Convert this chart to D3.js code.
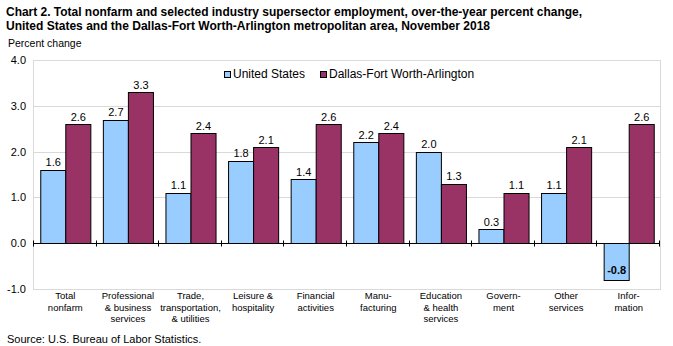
<!DOCTYPE html>
<html>
<head>
<meta charset="utf-8">
<script src="https://cdn.jsdelivr.net/npm/d3@7"></script>
<style>
  body { margin: 0; background: #fff; }
  svg { display: block; font-family: "Liberation Sans", Arial, sans-serif; }
</style>
</head>
<body>
<svg id="chart" width="673" height="346"></svg>
<script>
// industry groups, each label split over its lines
var categories = [
  ["Total", "nonfarm"],
  ["Professional", "& business", "services"],
  ["Trade,", "transportation,", "& utilities"],
  ["Leisure &", "hospitality"],
  ["Financial", "activities"],
  ["Manu-", "facturing"],
  ["Education", "& health", "services"],
  ["Govern-", "ment"],
  ["Other", "services"],
  ["Infor-", "mation"]
];
var usValues  = [1.6, 2.7, 1.1, 1.8, 1.4, 2.2, 2.0, 0.3, 1.1, -0.8];
var dfwValues = [2.6, 3.3, 2.4, 2.1, 2.6, 2.4, 1.3, 1.1, 2.1, 2.6];
var seriesNames = ["United States", "Dallas-Fort Worth-Arlington"];
var yTicks = [-1, 0, 1, 2, 3, 4];

var colors = ["#99ccff", "#993366"];
var svg = d3.select("#chart");
var plotLeft = 34, plotRight = 660, plotTop = 60, plotBottom = 289;

var x = d3.scaleBand()
  .domain(d3.range(categories.length))
  .range([plotLeft, plotRight])
  .paddingInner(0.2)
  .paddingOuter(0.1);
var x1 = d3.scaleBand().domain([0, 1]).range([0, x.bandwidth()]);
var y = d3.scaleLinear().domain([-1, 4]).range([plotBottom, plotTop]);

// title
var title = [
  "Chart 2. Total nonfarm and selected industry supersector employment, over-the-year percent change,",
  "United  States and the Dallas-Fort Worth-Arlington  metropolitan area, November 2018"
];
var titleWidths = [576, 484];
svg.selectAll("text.title").data(title).enter().append("text")
  .attr("class", "title")
  .attr("x", 6)
  .attr("y", function(d, i) { return 16 + i * 13.5; })
  .attr("font-size", 12.5)
  .attr("font-weight", "bold")
  .attr("textLength", function(d, i) { return titleWidths[i]; })
  .attr("lengthAdjust", "spacingAndGlyphs")
  .attr("fill", "#000")
  .text(function(d) { return d; });

svg.append("text")
  .attr("x", 8).attr("y", 47)
  .attr("font-size", 10.5)
  .text("Percent change");

// gridlines and frame
svg.append("g").selectAll("line").data(yTicks).enter().append("line")
  .attr("x1", plotLeft).attr("x2", plotRight)
  .attr("y1", function(d) { return Math.round(y(d)) + 0.5; })
  .attr("y2", function(d) { return Math.round(y(d)) + 0.5; })
  .attr("stroke", "#d9d9d9");
svg.append("rect")
  .attr("x", plotLeft - 0.5).attr("y", Math.round(plotTop) + 0.5)
  .attr("width", plotRight - plotLeft + 1).attr("height", Math.round(plotBottom) - Math.round(plotTop))
  .attr("fill", "none").attr("stroke", "#d9d9d9");

// y axis labels
svg.append("g").selectAll("text").data(yTicks).enter().append("text")
  .attr("x", 26)
  .attr("y", function(d) { return y(d) + 4; })
  .attr("text-anchor", "end")
  .attr("font-size", 11)
  .text(function(d) { return d.toFixed(1); });

// bars
var rows = categories.map(function(c, i) { return [usValues[i], dfwValues[i]]; });
var groups = svg.append("g").selectAll("g").data(rows).enter().append("g")
  .attr("transform", function(d, i) { return "translate(" + x(i) + ",0)"; });

groups.selectAll("rect").data(function(d) { return d; }).enter().append("rect")
  .attr("x", function(d, j) { return x1(j) + 0.5; })
  .attr("y", function(d) { return Math.round(y(Math.max(0, d))) + 0.5; })
  .attr("width", x1.bandwidth())
  .attr("height", function(d) { return Math.abs(Math.round(y(d)) - Math.round(y(0))); })
  .attr("fill", function(d, j) { return colors[j]; })
  .attr("stroke", "#000")
  .attr("stroke-width", 1);

// value labels (negative ones sit inside the bar, in bold)
groups.selectAll("text").data(function(d) { return d; }).enter().append("text")
  .attr("x", function(d, j) { return x1(j) + x1.bandwidth() / 2 + 0.5; })
  .attr("y", function(d) { return d >= 0 ? y(d) - 3.5 : y(d) - 5.5; })
  .attr("text-anchor", "middle")
  .attr("font-size", 11)
  .attr("font-weight", function(d) { return d < 0 ? "bold" : null; })
  .text(function(d) { return d.toFixed(1); });

// zero line with category ticks
var y0 = Math.round(y(0)) + 0.5;
svg.append("line")
  .attr("x1", plotLeft - 1).attr("x2", plotRight)
  .attr("y1", y0).attr("y2", y0)
  .attr("stroke", "#000");
var bounds = d3.range(categories.length + 1).map(function(i) {
  return i < categories.length ? x(i) - x.step() * x.paddingOuter() : plotRight;
});
svg.append("g").selectAll("line").data(bounds).enter().append("line")
  .attr("x1", function(d) { return Math.round(d) - 0.5; })
  .attr("x2", function(d) { return Math.round(d) - 0.5; })
  .attr("y1", y0 - 3).attr("y2", y0 + 3)
  .attr("stroke", "#000");

// category labels
var catLabels = svg.append("g").selectAll("text").data(categories).enter().append("text")
  .attr("text-anchor", "middle")
  .attr("font-size", 9.5)
  .attr("x", function(d, i) { return x(i) + x.bandwidth() / 2; });
catLabels.selectAll("tspan").data(function(d) { return d; }).enter().append("tspan")
  .attr("x", function() { return this.parentNode.getAttribute("x"); })
  .attr("y", function(d, k) { return 299 + k * 11.5; })
  .text(function(d) { return d; });

// legend
var legendX = [224, 320];
var legend = svg.append("g").selectAll("g").data(seriesNames).enter().append("g")
  .attr("transform", function(d, i) { return "translate(" + legendX[i] + ",0)"; });
legend.append("rect")
  .attr("x", 0.5).attr("y", 71.5).attr("width", 6).attr("height", 6)
  .attr("fill", function(d, i) { return colors[i]; })
  .attr("stroke", "#000");
legend.append("text")
  .attr("x", 9).attr("y", 77.5)
  .attr("font-size", 12)
  .text(function(d) { return d; });

svg.append("text")
  .attr("x", 7).attr("y", 343)
  .attr("font-size", 11)
  .text("Source: U.S. Bureau of Labor Statistics.");
</script>
</body>
</html>
